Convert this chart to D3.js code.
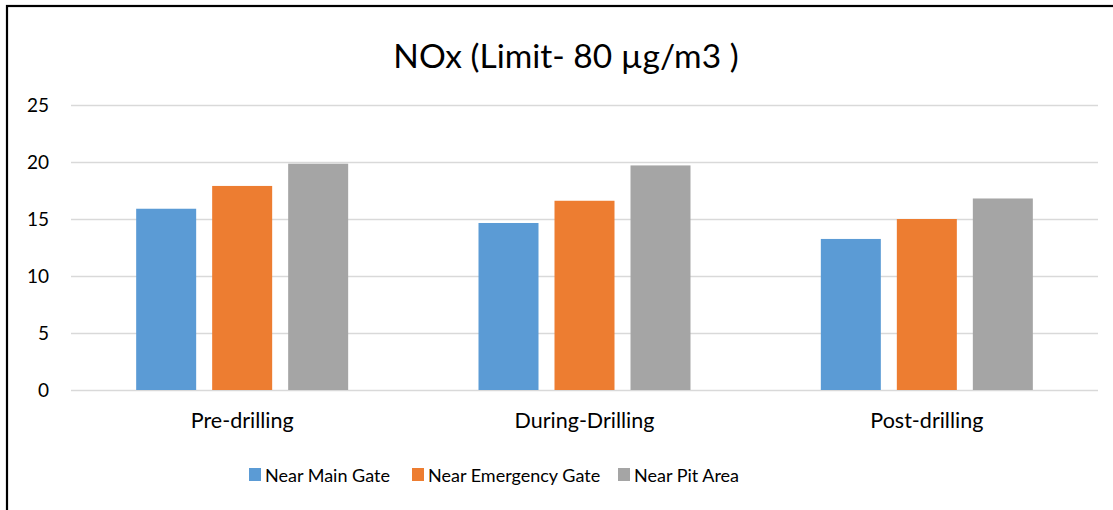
<!DOCTYPE html>
<html><head><meta charset="utf-8">
<script src="https://cdn.jsdelivr.net/npm/d3@7"></script>
<style>
html,body{margin:0;padding:0;background:#fff;}
svg text{font-family:Lato,"Open Sans",sans-serif;fill:#000;}
</style></head>
<body><svg id="c" width="1113" height="510"></svg>
<script>
const title = "NOx (Limit- 80 µg/m3 )";
const categories = ["Pre-drilling", "During-Drilling", "Post-drilling"];
const seriesNames = ["Near Main Gate", "Near Emergency Gate", "Near Pit Area"];
const nearMainGate = [15.9, 14.65, 13.25];
const nearEmergencyGate = [17.9, 16.6, 15.0];
const nearPitArea = [19.85, 19.7, 16.8];
const yTicks = [0, 5, 10, 15, 20, 25];
const colors = ["#5b9bd5", "#ed7d31", "#a5a5a5"];

const seriesValues = [nearMainGate, nearEmergencyGate, nearPitArea];
const svg = d3.select("#c");
const FF = "Lato,'Open Sans',sans-serif";

// frame (top and left edges visible)
svg.append("rect").attr("x",7).attr("y",6).attr("width",1200).attr("height",600)
  .attr("fill","none").attr("stroke","#000").attr("stroke-width",2.2);

const plotL = 71, plotR = 1098, plotT = 105, plotB = 390;
const y = d3.scaleLinear().domain([0,25]).range([plotB, plotT]);
const x0 = d3.scaleBand().domain(categories).range([plotL, plotR]).padding(0);
const x1 = d3.scaleBand().domain(seriesNames).range([0, 212]).paddingInner(0.2105).paddingOuter(0);

// grid
const yAxis = d3.axisLeft(y).tickValues(yTicks).tickSize(-(plotR-plotL)).tickPadding(22);
const ga = svg.append("g").attr("transform",`translate(${plotL},0)`).call(yAxis);
ga.select(".domain").remove();
ga.selectAll(".tick line").attr("stroke","#d9d9d9").attr("stroke-width",1.6);
ga.selectAll(".tick text").attr("font-size",19).attr("fill","#000").style("font-family",FF);

// bars
const groups = svg.append("g").selectAll("g").data(categories).join("g")
  .attr("transform", c => `translate(${x0(c)+x0.bandwidth()/2-106},0)`);
groups.selectAll("rect").data((c,i) => seriesNames.map((s,j)=>({s, v: seriesValues[j][i], j})))
  .join("rect")
  .attr("x", d => x1(d.s)).attr("width", x1.bandwidth())
  .attr("y", d => y(d.v)).attr("height", d => y(0)-y(d.v))
  .attr("fill", d => colors[d.j]);

// category labels
const xAxis = d3.axisBottom(x0).tickSize(0).tickPadding(23);
const gx = svg.append("g").attr("transform",`translate(0,${plotB})`).call(xAxis);
gx.select(".domain").remove();
gx.selectAll(".tick text").attr("font-size",21.5).attr("fill","#000").style("font-family",FF);

// title
svg.append("text").attr("x",566).attr("y",68).attr("text-anchor","middle")
  .attr("font-size",33.5).text(title);

// legend
const legX = [249, 412, 618];
const leg = svg.append("g").selectAll("g").data(seriesNames).join("g")
  .attr("transform",(d,i)=>`translate(${legX[i]},468)`);
leg.append("rect").attr("width",12).attr("height",13).attr("fill",(d,i)=>colors[i]);
leg.append("text").attr("x",16).attr("y",14).attr("font-size",18).text(d=>d);
</script></body></html>
